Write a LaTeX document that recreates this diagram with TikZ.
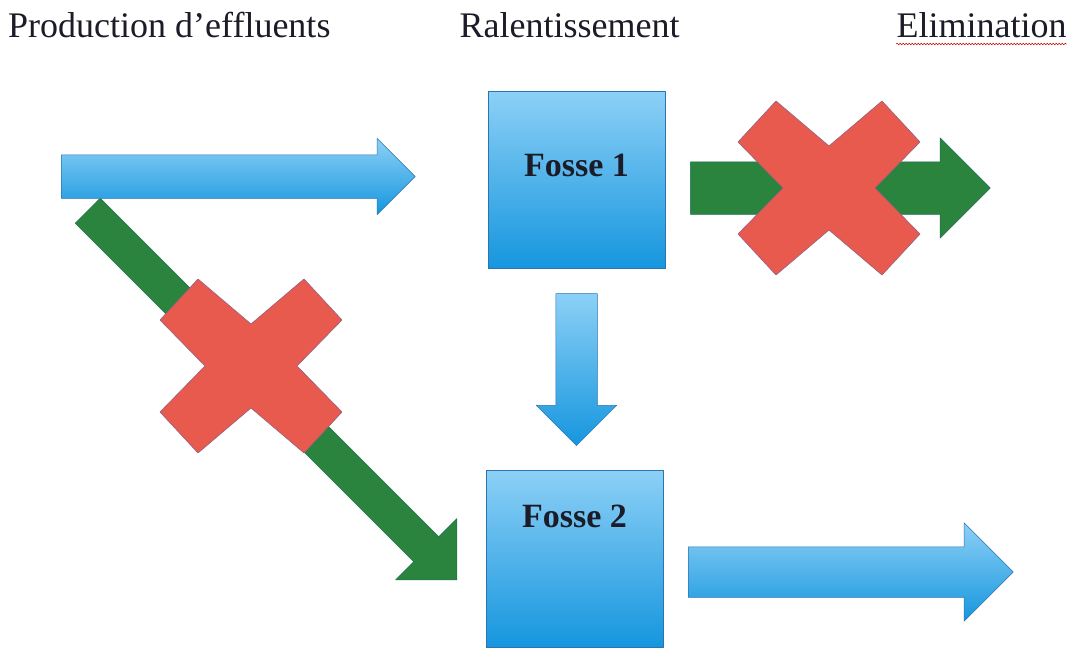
\documentclass[tikz,border=0pt]{standalone}
\usepackage{fontspec}
\setmainfont{Liberation Serif}
\usetikzlibrary{shapes.arrows,positioning,decorations.pathmorphing}

\definecolor{bluetop}{RGB}{140,208,246}
\definecolor{bluebot}{RGB}{22,150,222}
\definecolor{blueedge}{RGB}{45,115,175}
\definecolor{greenfill}{RGB}{42,132,62}
\definecolor{greenedge}{RGB}{30,110,90}
\definecolor{redfill}{RGB}{232,90,78}
\definecolor{rededge}{RGB}{150,95,130}
\definecolor{textdark}{RGB}{28,28,40}

\begin{document}
\begin{tikzpicture}[
						x=1pt, y=-1pt,
						line join=round,
						titre/.style={font=\fontsize{36}{40}\selectfont, text=textdark, inner sep=0pt},
						fosse/.style={rectangle, minimum width=177pt, minimum height=177pt, inner sep=0pt,
							top color=bluetop, bottom color=bluebot, draw=blueedge, line width=0.7pt,
							font=\fontsize{34}{38}\selectfont\bfseries, text=textdark},
						bluearrow/.style n args={3}{single arrow, single arrow tip angle=90,
							anchor=tail, inner xsep=0pt, inner ysep={#2/2*1pt},
							minimum height=#1*1pt, minimum width=#3*1pt,
							single arrow head extend={(#3-#2)/2*1pt},
							top color=bluetop, bottom color=bluebot, draw=blueedge, line width=0.5pt},
						greenarrow/.style n args={3}{single arrow, single arrow tip angle=90,
							anchor=tail, inner xsep=0pt, inner ysep={#2/2*1pt},
							minimum height=#1*1pt, minimum width=#3*1pt,
							single arrow head extend={(#3-#2)/2*1pt},
							fill=greenfill, draw=greenedge, line width=0.5pt},
						croix/.pic={
							\filldraw[fill=redfill, draw=rededge, line width=0.6pt]
							(0,-42) -- (53,-87) -- (91,-46) -- (46,0) -- (91,46) -- (53,87)
							-- (0,42) -- (-53,87) -- (-91,46) -- (-46,0) -- (-91,-46) -- (-53,-87) -- cycle;
						}
						]
						
						% Frame
						\useasboundingbox[fill=white] (0,0) rectangle (1074,648);
						
						% Column titles
						\node[titre, anchor=base west] (prod) at (8,37) {Production d’effluents};
						\node[titre, anchor=base] (ralent) at (569.5,37) {Ralentissement};
						\node[titre, anchor=base] (elim) at (981.5,37) {Elimination};
						\draw[red!80!black, line width=0.5pt, decorate,
						decoration={snake, amplitude=0.9pt, segment length=3pt}]
						([yshift=-7pt]elim.base west) -- ([yshift=-7pt]elim.base east);
						
						% Blocked paths
						\node[greenarrow={522}{35}{86}, rotate=-45] (direct) at (87.5,210.5) {};
						\node[greenarrow={300}{52}{100}] (rejet1) at (690,188) {};
						\pic (stop1) at (251,366) {croix};
						\pic (stop2) at (829,188) {croix};
						
						% Pits
						\node[fosse, text depth=29pt] (fosse1) at (576.5,179.5) {Fosse 1};
						\node[fosse, text depth=84pt] (fosse2) at (574.5,558.5) {Fosse 2};
						
						% Flow
						\node[bluearrow={354}{43}{76}] (entree) at (61,176.5) {};
						\node[bluearrow={152}{41}{80}, shape border rotate=270,
						inner xsep=20.5pt, inner ysep=0pt]
						(passage) at ([yshift=-25pt]fosse1.south) {};
						\node[bluearrow={325}{50}{98}] (rejet2) at (688,572) {};
						
					\end{tikzpicture}
\end{document}
